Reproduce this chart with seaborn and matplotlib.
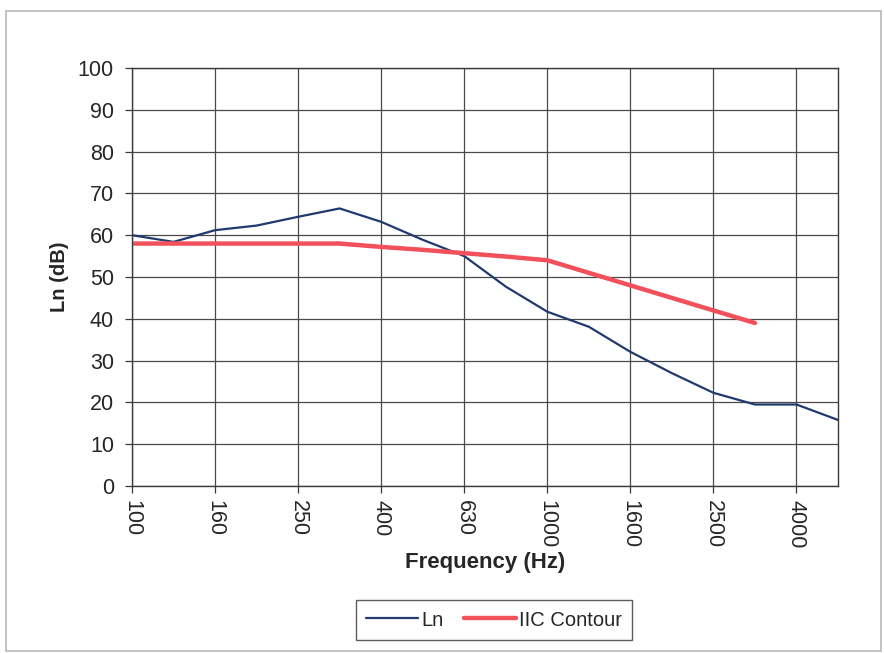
#!/usr/bin/env python3

import seaborn as sns
import matplotlib.pyplot as plt
import pandas
from matplotlib.patches import Rectangle

# 1/3 octave band centre frequencies (Hz)
freqs = ["100", "125", "160", "200", "250", "315", "400", "500", "630",
         "800", "1000", "1250", "1600", "2000", "2500", "3150", "4000", "5000"]

# measured normalized impact sound level
ln_values = [60, 58.4, 61.2, 62.3, 64.4, 66.4, 63.2, 58.9, 55, 47.7,
             41.7, 38.1, 32.1, 27, 22.3, 19.5, 19.5, 15.8]

# fitted IIC contour (100 - 3150 Hz)
iic_values = [58, 58, 58, 58, 58, 58, 57.2, 56.5, 55.7, 54.9,
              54, 51, 48, 45, 42, 39]

y_ticks = list(range(0, 101, 10))


def main():
    sns.set_style("white")
    plt.rcParams["font.family"] = ["Liberation Sans", "DejaVu Sans"]

    df_ln = pandas.DataFrame({"freq": freqs, "level": ln_values})
    df_iic = pandas.DataFrame({"freq": freqs[:len(iic_values)], "level": iic_values})

    fig = plt.figure(figsize=(8.84, 6.53), dpi=100)
    ax = fig.add_axes([0.1493, 0.2557, 0.7987, 0.6402])

    sns.lineplot(data=df_ln, x="freq", y="level", ax=ax, color="#1f3b6e",
                 linewidth=1.6, label="Ln", sort=False)
    sns.lineplot(data=df_iic, x="freq", y="level", ax=ax, color="#f2505a",
                 linewidth=3.2, label="IIC Contour", sort=False)

    ax.set_xlim(0, len(freqs) - 1)
    ax.set_ylim(0, 100)
    ax.set_yticks(y_ticks)
    ax.set_yticklabels([str(v) for v in y_ticks], fontsize=15.5)
    ax.set_xticks(range(0, len(freqs), 2))
    ax.set_xticklabels(freqs[::2], rotation=-90, fontsize=15.5)

    ax.grid(True, color="#4a4a4a", linewidth=0.9)
    ax.set_axisbelow(True)
    for sp in ax.spines.values():
        sp.set_color("#3a3a3a")
        sp.set_linewidth(1.0)
    ax.tick_params(axis="y", direction="out", length=5, width=0.9,
                   color="#3a3a3a", left=True, pad=8)
    ax.tick_params(axis="x", direction="out", length=5, width=0.9,
                   color="#3a3a3a", bottom=True, pad=5)

    ax.set_xlabel("Frequency (Hz)", fontsize=16, fontweight="bold", labelpad=3)
    ax.set_ylabel("Ln (dB)", fontsize=14.5, fontweight="bold", labelpad=6)

    handles, labels = ax.get_legend_handles_labels()
    ax.get_legend().remove()
    leg = fig.legend(handles, labels, loc="center", bbox_to_anchor=(0.559, 0.0505),
                     ncol=2, fontsize=14.5, frameon=True, fancybox=False,
                     edgecolor="#333333", handlelength=2.6, handletextpad=0.15,
                     columnspacing=1.0, borderpad=0.5)
    leg.get_frame().set_linewidth(1.0)

    # faint border of the scanned chart area
    fig.patches.append(Rectangle((6 / 884, 2 / 653), 875 / 884, 640 / 653,
                                 transform=fig.transFigure, fill=False,
                                 edgecolor="#b8b8b8", linewidth=1.2))

    fig.savefig("out.png", dpi=100)


if __name__ == "__main__":
    main()
